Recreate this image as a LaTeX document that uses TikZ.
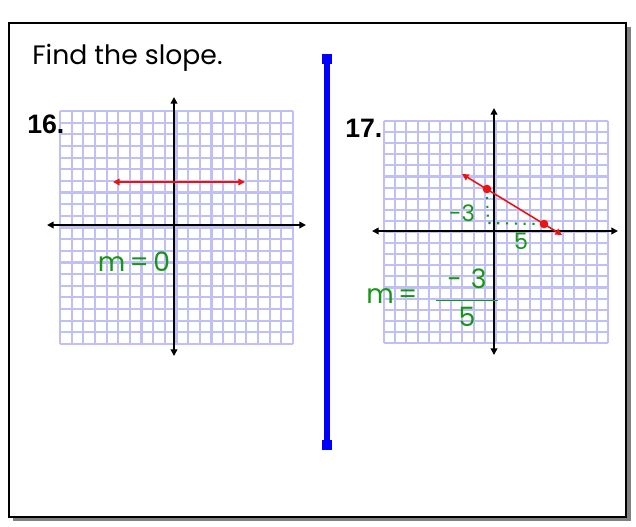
\documentclass[tikz,border=0pt]{standalone}
\usepackage{amsmath}
\usepackage{fontspec}
\setmainfont{Poppins}
\newfontfamily\numfont{Liberation Sans}
\usetikzlibrary{arrows.meta}
\definecolor{gridlav}{RGB}{192,192,245}
\definecolor{handgreen}{RGB}{22,150,22}
\definecolor{framegray}{RGB}{128,128,128}
\definecolor{lineRed}{RGB}{235,20,20}

\begin{document}
\begin{tikzpicture}[
  x=0.75pt,
  y=-0.75pt,
  every node/.style={inner sep=0pt},
  frame/.style={black, line width=1.6pt},
  gridline/.style={gridlav, line width=1.6pt},
  axis/.style={black, line width=1.5pt, {Triangle[length=5pt,width=5pt]}-{Triangle[length=5pt,width=5pt]}},
  redline/.style={lineRed, line width=1.2pt, {Triangle[length=5pt,width=5pt]}-{Triangle[length=5pt,width=5pt]}},
  reddot/.style={circle, fill=lineRed, minimum size=6.5pt},
  dotline/.style={handgreen, line width=1.6pt, dash pattern=on 1.6pt off 5pt},
  hand/.style={handgreen, font=\fontsize{17}{20}\selectfont},
  bighand/.style={handgreen, font=\fontsize{20}{24}\selectfont},
  probnum/.style={anchor=base west, font=\numfont\bfseries\fontsize{20}{24}\selectfont},
  bluebar/.style={blue, line width=3.8pt},
  bluecap/.style={rectangle, fill=blue, minimum size=7.5pt}
]
  \useasboundingbox (0,0) rectangle (636,526);

  % ---- page frame with shadow ----
  \fill[framegray] (13,27) rectangle (631,521);
  \draw[frame, fill=white] (9,23) rectangle (626,517);

  % ---- heading ----
  \node[anchor=base west, font=\fontsize{20}{24}\selectfont] (title) at (32,64) {Find the slope.};

  % ---- divider ----
  \coordinate (bartop) at (327,59);
  \coordinate (barbot) at (327,445);
  \draw[bluebar] (bartop) -- (barbot);
  \node[bluecap] (captop) at (bartop) {};
  \node[bluecap] (capbot) at (barbot) {};

  % ---- grids (20 x 20 cells) ----
  \foreach \k in {0,...,20}{
    \draw[gridline] ({60+233*\k/20},111) -- ({60+233*\k/20},344);
    \draw[gridline] (60,{111+233*\k/20}) -- (293,{111+233*\k/20});
    \draw[gridline] ({384+224*\k/20},121) -- ({384+224*\k/20},343);
    \draw[gridline] (384,{121+222*\k/20}) -- (608,{121+222*\k/20});
  }

  % ---- problem 16 ----
  \node[probnum] (num16) at (27,133) {16.};
  \coordinate (xl16) at (47,225);
  \coordinate (xr16) at (306,225);
  \coordinate (yt16) at (174,97);
  \coordinate (yb16) at (174,356);
  \draw[axis] (xl16) -- (xr16);
  \draw[axis] (yb16) -- (yt16);
  \coordinate (la16) at (113,182);
  \coordinate (lb16) at (245,182);
  \draw[redline] (la16) -- (lb16);
  \node[bighand] (slope16) at (134,262) {m\,=\,0};

  % ---- problem 17 ----
  \node[probnum] (num17) at (345,137) {17.};
  \coordinate (xl17) at (372,231);
  \coordinate (xr17) at (618,231);
  \coordinate (yt17) at (494,108);
  \coordinate (yb17) at (494,355);
  \draw[axis] (xl17) -- (xr17);
  \draw[axis] (yb17) -- (yt17);

  % ---- line through the two points ----
  \coordinate (la17) at (462,174);
  \coordinate (lb17) at (562,235);
  \draw[redline] (la17) -- (lb17);
  \node[reddot] (pa) at (487,189) {};
  \node[reddot] (pb) at (544,224) {};

  % ---- rise and run ----
  \coordinate (corner) at (488,223);
  \draw[dotline] ([yshift=-6pt]pa.center) -- (corner) -- ([xshift=-5pt]pb.center);
  \node[hand] (rise) at (462,213) {-3};
  \node[hand] (run) at (521,241) {5};

  % ---- slope ----
  \node[bighand, anchor=west] (m17) at (366,296) {m\,=};
  \node[bighand] (frac17) at (467,298) {$\dfrac{\text{\ \,-\,\,3\ \,}}{\text{5}}$};
\end{tikzpicture}
\end{document}
